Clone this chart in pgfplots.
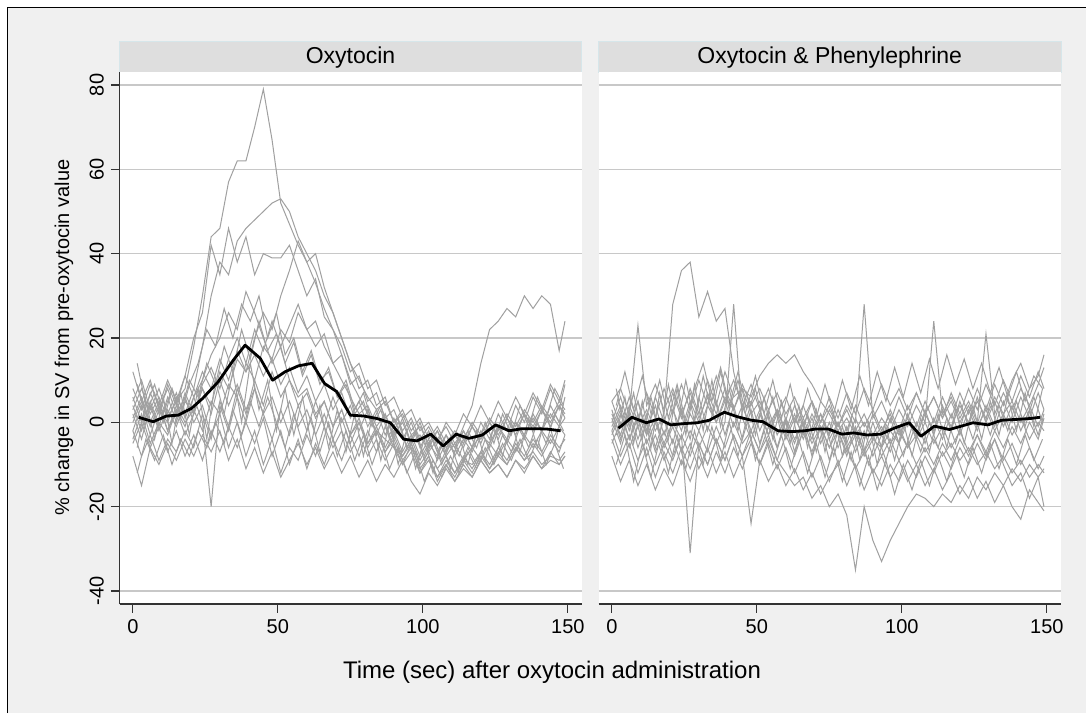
\documentclass[border=0pt]{standalone}
\usepackage{fontspec}
\setmainfont{Liberation Sans}
\usepackage{pgfplots}
\pgfplotsset{compat=1.18}
\usepackage{pgfplotstable}
\definecolor{bggray}{HTML}{F0F0F0}
\definecolor{stripfill}{HTML}{DEDEDE}
\definecolor{stripline}{HTML}{D6E6EA}
\definecolor{gridc}{HTML}{C8C8C8}
\definecolor{linegray}{HTML}{A0A0A0}
\definecolor{axisc}{HTML}{333333}

\pgfplotstableread{
t a b c d e f g h i j k l m n
0 3 -2 6 2 -4 1 8 0 -8 5 12 -2 4 -5
3 8 4 0 -4 2 6 3 5 -15 10 5 -8 -2 0
6 2 -3 7 4 -5 0 9 -1 -6 3 10 -3 5 -6
9 6 3 2 -2 0 5 4 4 -10 8 3 -9 -1 -1
12 1 0 9 3 -3 -2 10 -2 -5 2 8 -4 6 -7
15 5 6 4 -1 3 4 5 3 -9 7 2 -7 0 -2
18 8 2 11 5 -1 0 11 -3 -4 1 6 -2 7 -8
21 18 8 20 2 6 3 6 2 -8 6 0 -6 2 -3
24 30 18 26 8 10 -2 12 8 -3 0 4 2 9 -9
27 44 30 42 4 16 5 8 2 -7 -20 -3 -4 13 -2
30 46 38 35 12 20 2 15 10 -2 4 2 5 8 -7
33 57 35 46 8 26 9 10 4 -9 -2 -6 -1 15 -1
36 62 43 38 15 22 6 17 9 -4 6 0 8 20 -6
39 62 46 44 12 31 14 12 3 -11 0 -8 2 14 0
42 70 48 35 20 26 10 16 8 -6 8 -2 10 22 -5
45 79 50 40 26 20 18 11 2 -12 2 -10 4 17 1
48 67 52 39 22 14 15 15 6 -7 -4 -4 12 24 -8
51 52 53 39 30 18 22 9 0 -13 3 -12 6 18 -2
54 47 50 42 36 10 19 13 5 -9 -3 -6 10 23 -10
57 42 44 36 43 6 26 7 -1 -5 4 -9 4 28 -4
60 38 40 30 38 8 22 11 3 -10 -2 -3 7 22 -11
63 33 36 34 40 2 24 5 -3 -6 5 -8 1 18 -5
66 27 30 25 32 5 18 9 2 -11 -1 -1 5 21 -10
69 22 26 22 26 -1 14 3 -4 -7 6 -6 -1 14 -4
72 16 20 18 20 3 10 7 1 -12 0 -2 3 16 -9
75 10 14 12 14 -3 6 1 -5 -8 4 -7 -3 9 -3
78 6 10 14 8 0 2 5 0 -13 -2 -3 1 11 -8
81 2 6 8 10 -5 4 -1 -6 -9 3 -8 -5 5 -2
84 -2 3 10 4 -2 -1 3 -2 -14 -3 -4 -1 7 -7
87 -4 5 4 6 -7 2 -3 -7 -10 2 -9 -6 1 -1
90 -6 0 6 0 -4 -3 1 -3 -13 -4 -5 -2 3 -6
93 -8 2 1 3 -9 0 -4 -8 -9 1 -10 -7 -2 -10
96 -5 -3 3 -2 -6 -5 0 -4 -14 -5 -7 -3 1 -5
99 -10 -1 -2 1 -11 -3 -6 -9 -17 0 -12 -8 -4 -12
102 -7 -5 0 -4 -8 -7 -2 -5 -12 -6 -9 -4 -1 -8
105 -11 -2 -4 -1 -13 -4 -7 -8 -15 -2 -13 -9 -5 -14
108 -8 -6 -1 -5 -9 -8 -3 -3 -11 -7 -10 -5 0 -10
111 -12 -3 -5 -2 -12 -5 -8 -6 -14 -3 -14 -7 -3 -13
114 -9 -5 -2 -4 -8 -9 -4 -1 -10 -6 -11 -2 2 -9
117 -10 -1 -6 0 -11 -6 -7 4 -13 -1 -13 -6 -1 -12
120 -7 -4 -3 -3 -7 -9 -2 14 -9 -5 -9 0 4 -8
123 -11 0 -5 1 -10 -5 -6 22 -12 0 -12 -4 0 -11
126 -8 -3 -1 -2 -6 -8 -1 24 -10 -4 -10 2 5 -7
129 -10 1 -4 2 -9 -4 -5 27 -13 1 -13 -2 1 -10
132 -6 -2 0 -1 -5 -7 0 25 -9 -3 -9 4 6 -6
135 -9 2 -3 3 -8 -3 -4 30 -11 2 -12 0 2 -9
138 -7 -1 1 0 -4 -6 2 27 -8 -2 -8 6 7 -5
141 -10 3 -2 4 -7 -2 -2 30 -11 3 -11 2 3 -8
144 -8 0 2 1 -3 -5 4 28 -9 -1 -7 8 9 -4
147 -9 4 -1 5 -6 -1 0 17 -10 4 -10 3 5 -7
149 -7 2 1 3 -4 -3 6 24 -8 1 -8 9 10 -3
}\tabA

\pgfplotstableread{
t p q r s
1.5 9 -6 -12 14
4.5 2 5 -4 4
7.5 7 -4 -9 9
10.5 0 6 -3 2
13.5 8 -5 -10 8
16.5 2 7 -4 1
19.5 10 -3 -8 9
22.5 6 8 -2 14
25.5 14 -4 -6 22
28.5 9 10 0 18
31.5 18 2 -5 27
34.5 12 12 3 20
37.5 22 0 -3 28
40.5 15 14 5 24
43.5 24 3 -1 30
46.5 17 10 6 20
49.5 21 -2 0 26
52.5 14 8 -6 16
55.5 19 -3 2 20
58.5 11 6 -5 12
61.5 16 -5 1 17
64.5 9 4 -7 10
67.5 13 -6 0 12
70.5 6 3 -8 6
73.5 10 -7 -2 9
76.5 3 2 -9 2
79.5 7 -8 -3 5
82.5 0 1 -10 -1
85.5 4 -9 -4 3
88.5 -3 0 -11 -4
91.5 1 -10 -6 0
94.5 -6 -2 -12 -6
97.5 -2 -11 -7 -2
100.5 -9 -4 -14 -8
103.5 -4 -12 -9 -3
106.5 -10 -5 -13 -9
109.5 -5 -11 -8 -4
112.5 -11 -3 -12 -8
115.5 -6 -10 -7 -2
118.5 -10 -2 -11 -6
121.5 -4 -9 -6 0
124.5 -9 -1 -10 -5
127.5 -3 -8 -5 2
130.5 -7 0 -9 -3
133.5 -1 -7 -4 4
136.5 -6 1 -9 -1
139.5 0 -6 -4 6
142.5 -5 2 -10 1
145.5 2 -5 -5 8
148.5 -2 3 -11 4
}\tabC

\pgfplotstableread{
t A B C D E F G H I J K L M
0 2 -2 -2 3 -5 5 0 -3 5 -8 1 -4 -1
3 -3 3 -8 -4 0 8 6 2 -1 -14 -5 -10 4
6 4 -4 -3 2 -6 2 -1 -4 6 -9 3 -5 -2
9 -1 2 -9 -6 -1 23 5 1 0 -15 -4 -12 5
12 3 -3 -4 0 -8 4 -2 -5 7 -10 2 -6 -3
15 -2 1 -10 -7 -3 9 4 0 1 -16 -6 -13 6
18 2 -5 -5 -2 -9 3 -3 -6 8 -11 1 -7 0
21 28 0 -9 -8 -4 8 3 -1 2 -15 -5 -12 7
24 36 -4 -3 -3 -10 2 -2 -7 9 -9 3 -6 1
27 38 2 -8 -31 -5 7 5 -2 3 -14 -4 -11 8
30 25 -2 -2 -5 -11 1 0 -6 10 -8 6 -5 2
33 31 4 -7 -10 -6 6 7 -1 4 -13 -2 -10 10
36 24 0 -1 -4 -12 0 2 -5 11 -7 5 -4 4
39 27 6 -6 -9 -7 5 8 0 5 -12 -3 -9 12
42 12 3 0 -3 -13 -1 3 28 10 -6 4 -3 6
45 3 8 -5 -8 -8 4 9 1 4 -11 -4 -8 8
48 5 6 -2 -2 -24 -2 4 -4 9 -5 3 -4 2
51 -2 11 -7 -7 -9 3 8 2 3 -10 -5 -10 5
54 3 14 -3 -1 -14 -3 3 -3 8 -4 2 -5 -1
57 -3 16 -9 -6 -10 2 7 3 2 -9 -6 -11 3
60 1 14 -12 0 -15 -4 2 -2 6 -3 1 -6 -3
63 -4 16 -15 -5 -11 1 6 4 0 -8 -7 -12 2
66 0 12 -13 1 -16 -3 1 -1 4 -2 0 -7 -4
69 -5 9 -18 -4 -12 2 5 5 -2 -7 -8 -13 1
72 -1 5 -15 2 -17 -2 0 0 2 -1 -1 -8 -5
75 -6 2 -20 -3 -13 3 4 6 -4 -6 -9 -14 0
78 -2 -2 -17 3 -10 -1 -1 1 0 0 -2 -9 -6
81 -7 1 -22 -2 -6 4 3 7 -6 -5 -8 -15 -1
84 -3 -3 -35 4 -11 0 -2 2 -2 1 -1 -10 -7
87 -8 0 -20 -1 -7 28 2 8 -7 -4 -7 -16 -2
90 -4 -4 -28 3 -12 1 -3 3 -3 2 0 -11 -8
93 -6 -1 -33 -2 -8 5 1 9 -8 -3 -6 -15 -3
96 -2 -5 -28 2 -13 0 -2 4 -4 3 1 -10 -7
99 -5 -2 -24 -3 -9 6 3 8 -9 -2 -5 -14 -1
102 0 -6 -20 1 -14 1 -1 3 -5 4 2 -9 -6
105 -3 -3 -17 -4 -10 7 4 7 -10 -1 -4 -13 0
108 2 -7 -18 0 -15 2 0 2 -6 5 3 -8 -5
111 -2 -4 -20 -5 -11 6 24 6 -10 0 -3 -12 1
114 3 -8 -17 -1 -16 1 2 1 -5 6 4 -7 -4
117 -1 -5 -19 -6 -12 7 6 5 -9 1 -2 -11 2
120 4 -9 -15 -2 -17 2 1 0 -4 7 5 -6 -3
123 0 -6 -18 -7 -13 8 5 4 -8 2 -1 -10 3
126 5 -10 -13 -3 -18 3 0 -1 -3 8 6 -5 -2
129 1 -7 -16 -8 -14 9 21 3 -7 3 0 -9 4
132 6 -11 -12 -4 -19 4 2 -2 -2 9 5 -4 -1
135 2 -8 -15 -9 -15 10 7 2 -6 4 -1 -10 5
138 5 -12 -11 -5 -20 5 3 -3 -1 10 4 -15 0
141 0 -9 -14 -10 -23 11 8 1 -5 14 -2 -12 6
144 4 -13 -10 -6 -16 6 4 -4 0 8 3 -18 1
147 -1 -10 -13 -11 -19 12 9 0 -4 11 -3 -13 7
149 3 -12 -11 -8 -21 8 13 -2 1 16 2 -20 3
}\tabB

\pgfplotstableread{
t P Q R S
1.5 4 -10 8 -3
4.5 12 -3 -2 6
7.5 3 -14 7 -5
10.5 11 -5 -4 5
13.5 2 -13 6 -6
16.5 10 -4 -3 7
19.5 1 -12 9 -4
22.5 9 -3 -1 8
25.5 0 -11 10 -3
28.5 8 -2 0 9
31.5 14 -10 11 -2
34.5 5 -1 2 10
37.5 13 -9 12 -1
40.5 4 0 3 8
43.5 12 -8 10 -2
46.5 3 1 1 7
49.5 11 -9 8 -3
52.5 2 -2 -1 6
55.5 10 -10 6 -4
58.5 1 -3 -3 5
61.5 9 -11 4 -5
64.5 0 -4 -5 4
67.5 8 -12 2 -6
70.5 1 -5 -7 3
73.5 9 -13 0 -7
76.5 2 -6 -8 2
79.5 10 -14 -1 -8
82.5 3 -7 -9 1
85.5 11 -15 -2 -9
88.5 4 -8 -10 0
91.5 12 -16 -3 -10
94.5 5 -9 -9 -1
97.5 13 -17 -2 -9
100.5 6 -10 -8 0
103.5 14 -16 -1 -8
106.5 7 -9 -7 1
109.5 15 -15 0 -7
112.5 8 -8 -6 2
115.5 16 -14 1 -6
118.5 9 -7 -5 3
121.5 15 -13 2 -5
124.5 8 -6 -4 4
127.5 14 -12 3 -4
130.5 7 -5 -3 5
133.5 13 -11 4 -3
136.5 6 -4 -2 6
139.5 12 -10 5 -2
142.5 5 -3 -1 7
145.5 11 -9 6 -1
148.5 8 -4 0 8
}\tabD

\pgfplotstableread{
t m
2.0 1.2
7.0 0.15
11.6 1.5
15.6 1.7
20.2 3.3
24.1 5.7
29.4 9.6
34.7 14.8
38.7 18.3
43.9 15.2
48.2 10.0
52.5 12.0
57.1 13.4
61.8 14.0
66.1 9.2
70.3 7.3
75.0 1.7
79.6 1.5
84.2 0.9
88.8 -0.1
93.4 -4.0
98.0 -4.4
102.7 -2.8
107.0 -5.6
111.5 -2.8
115.9 -3.8
120.5 -3.0
125.1 -0.6
129.7 -2.0
134.3 -1.5
138.9 -1.5
142.9 -1.6
147.5 -2.0
}\meanA

\pgfplotstableread{
t m
2.3 -1.4
6.9 1.2
11.9 -0.1
16.2 0.8
20.3 -0.6
24.9 -0.3
29.5 -0.1
33.6 0.5
38.8 2.4
43.4 1.3
48.1 0.5
52.1 0.15
57.3 -2.0
61.9 -2.2
66.6 -2.0
70.1 -1.6
74.7 -1.6
79.3 -2.8
83.4 -2.5
88.0 -3.0
92.7 -2.8
97.3 -1.4
102.5 -0.1
106.6 -3.3
111.2 -0.9
116.4 -1.7
120.5 -0.9
124.5 -0.1
129.7 -0.6
134.4 0.5
139.6 0.7
144.2 0.9
147.7 1.2
}\meanB

\pgfplotsset{
  panel/.style={
    scale only axis, width=462pt, height=532.3pt, anchor=south west,
    xmin=-4.6, xmax=154.7, ymin=-43.15, ymax=83.08,
    xtick={0,50,100,150}, ytick={-40,-20,0,20,40,60,80},
    ymajorgrids, grid style={gridc, line width=1.3pt},
    axis background/.style={fill=white},
    tick align=outside, major tick length=8.5pt,
    tick style={axisc, line width=1.2pt},
    axis x line*=bottom, axis y line*=left,
    x axis line style={axisc, line width=1.8pt, -},
    y axis line style={axisc, line width=1.8pt, -},
    ticklabel style={font=\fontsize{20}{24}\selectfont},
    xticklabel style={inner sep=0pt, yshift=-7pt},
    yticklabel style={rotate=90, anchor=south, inner sep=0pt, yshift=7pt},
    /pgf/number format/assume math mode=true,
  },
  grayline/.style={linegray, line width=1pt, no markers},
  meanline/.style={black, line width=2.8pt, no markers, line join=round},
}

\begin{document}
\begin{tikzpicture}[x=1pt,y=1pt]
\useasboundingbox (0,0) rectangle (1086,713);
\fill[white] (0,0) rectangle (1086,713);
\fill[bggray] (7.3,0) rectangle (1086,705.7);
\draw[black, line width=1.3pt] (7.3,0) -- (7.3,705.7) -- (1086,705.7);

% strips
\filldraw[fill=stripfill, draw=stripline, line width=0.8pt] (119.5,641) rectangle (581.5,672);
\filldraw[fill=stripfill, draw=stripline, line width=0.8pt] (598.5,641) rectangle (1061,672);
\node[anchor=base, font=\fontsize{23}{27}\selectfont] at (350.5,649.7) {Oxytocin};
\node[anchor=base, font=\fontsize{23}{27}\selectfont] at (829.75,649.7) {Oxytocin \& Phenylephrine};

\begin{axis}[panel, at={(119.5pt,108.7pt)}]
\pgfplotsinvokeforeach{a,b,c,d,e,f,g,h,i,j,k,l,m,n}{
  \addplot[grayline] table[x=t,y=#1]{\tabA};
}
\pgfplotsinvokeforeach{p,q,r,s}{
  \addplot[grayline] table[x=t,y=#1]{\tabC};
}
\addplot[meanline] table[x=t,y=m]{\meanA};
\end{axis}

\begin{axis}[panel, at={(598.5pt,108.7pt)},
  y axis line style={draw=none}, yticklabels={}, ytick style={draw=none}]
\pgfplotsinvokeforeach{A,B,C,D,E,F,G,H,I,J,K,L,M}{
  \addplot[grayline] table[x=t,y=#1]{\tabB};
}
\pgfplotsinvokeforeach{P,Q,R,S}{
  \addplot[grayline] table[x=t,y=#1]{\tabD};
}
\addplot[meanline] table[x=t,y=m]{\meanB};
\end{axis}

\node[rotate=90, font=\fontsize{20}{24}\selectfont] at (64,375.5) {\% change in SV from pre-oxytocin value};
\node[anchor=base, font=\fontsize{24}{28}\selectfont] at (552,34.7) {Time (sec) after oxytocin administration};
\end{tikzpicture}
\end{document}
